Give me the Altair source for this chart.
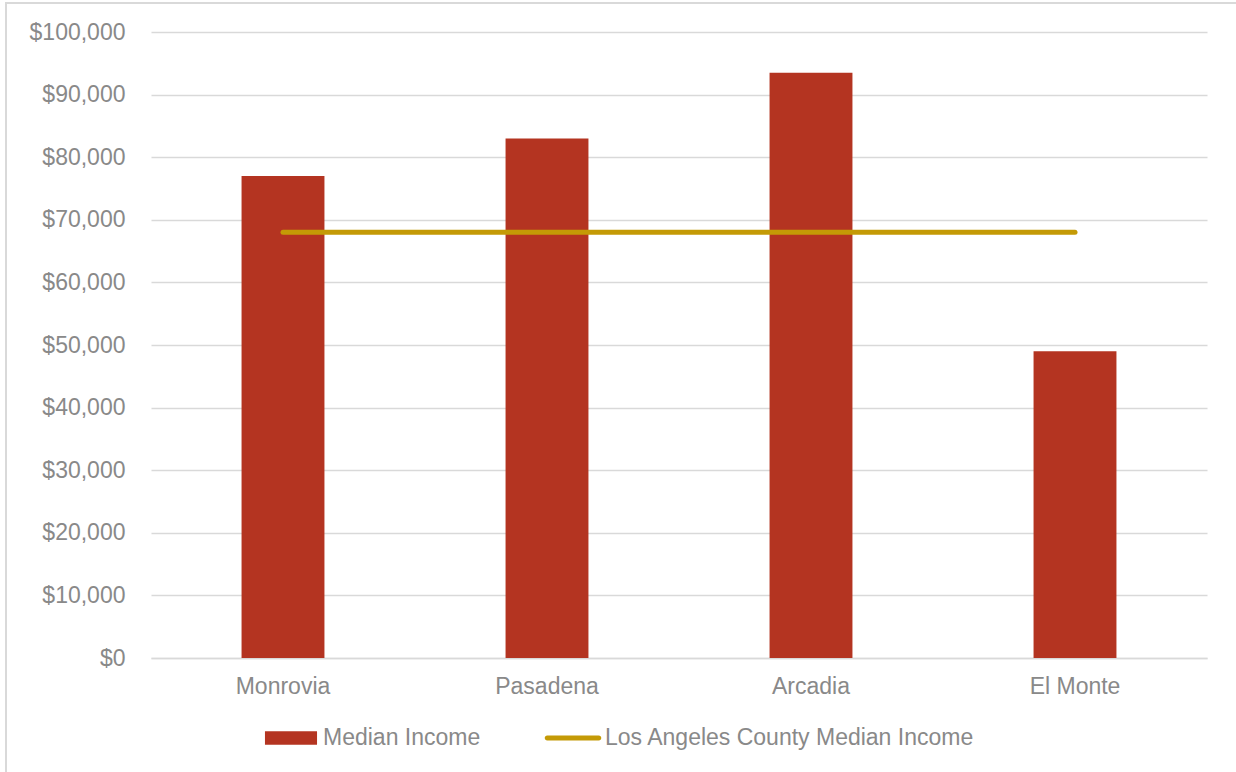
import altair as alt
import pandas as pd

cities = ["Monrovia", "Pasadena", "Arcadia", "El Monte"]
median_income = [77000, 83000, 93500, 49000]
la_county_median = [68000, 68000, 68000, 68000]
series_names = ["Median Income", "Los Angeles County Median Income"]
series_colors = ["#B43421", "#C49A06"]
y_ticks = [0, 10000, 20000, 30000, 40000, 50000, 60000, 70000, 80000, 90000, 100000]

FONT = "Liberation Sans"
GRAY = "#898989"
GRID = "#D9D9D9"
FS = 23

df = pd.DataFrame({"city": cities, "income": median_income, "la": la_county_median})
leg_df = pd.DataFrame({"series": series_names, "v": [0, 0], "city": cities[:2]})

x_enc = alt.X(
    "city:N",
    sort=cities,
    title=None,
    scale=alt.Scale(paddingInner=0.686, paddingOuter=0.343),
    axis=alt.Axis(
        labelAngle=0, labelFont=FONT, labelFontSize=FS, labelColor=GRAY,
        labelPadding=17, ticks=False, domainColor=GRID, domainWidth=1.5, grid=False,
    ),
)
y_scale = alt.Scale(domain=[0, 100000], nice=False)
y_axis = alt.Axis(
    values=y_ticks, format="$,.0f", labelFont=FONT, labelFontSize=FS,
    labelColor=GRAY, labelPadding=26, ticks=False, domain=False,
    grid=True, gridColor=GRID, gridWidth=1.5,
)

frame = alt.Chart(df).mark_rect(fill=None, stroke=GRID, strokeWidth=2).encode(
    x=alt.value(-145), x2=alt.value(1100), y=alt.value(-29), y2=alt.value(760)
)

bars = alt.Chart(df).mark_bar(color=series_colors[0]).encode(
    x=x_enc,
    y=alt.Y("income:Q", title=None, scale=y_scale, axis=y_axis),
)

line = alt.Chart(df).mark_line(color=series_colors[1], strokeWidth=5, strokeCap="round").encode(
    x=alt.X("city:N", sort=cities),
    y=alt.Y("la:Q"),
)

bar_path = "M-0.93,-0.24H0.93V0.24H-0.93Z"
line_path = "M-0.92,-0.09H0.92A0.09,0.09,0,0,1,0.92,0.09H-0.92A0.09,0.09,0,0,1,-0.92,-0.09Z"

legend = alt.Legend(
    orient="none", legendX=112, legendY=678, direction="horizontal", title=None,
    labelFont=FONT, labelFontSize=FS, labelColor=GRAY, symbolSize=3136,
    labelOffset=4, columnPadding=63, padding=0, symbolStrokeWidth=0,
    labelLimit=800, symbolOpacity=1,
)

legend_layer = alt.Chart(leg_df).mark_point(filled=True, size=1, opacity=1).encode(
    x=alt.X("city:N", sort=cities),
    y=alt.Y("v:Q"),
    color=alt.Color("series:N", scale=alt.Scale(domain=series_names, range=series_colors), legend=legend),
    shape=alt.Shape("series:N", scale=alt.Scale(domain=series_names, range=[bar_path, line_path]), legend=legend),
).transform_filter("false")

chart = alt.layer(frame, bars, line, legend_layer).properties(
    width=1056,
    height=626,
    background="white",
    autosize=alt.AutoSizeParams(type="none"),
    padding={"left": 151, "top": 32, "right": 29, "bottom": 114},
).configure_view(strokeWidth=0, stroke="transparent")

chart.save("out.html", embed_options={"renderer": "svg", "actions": False})
